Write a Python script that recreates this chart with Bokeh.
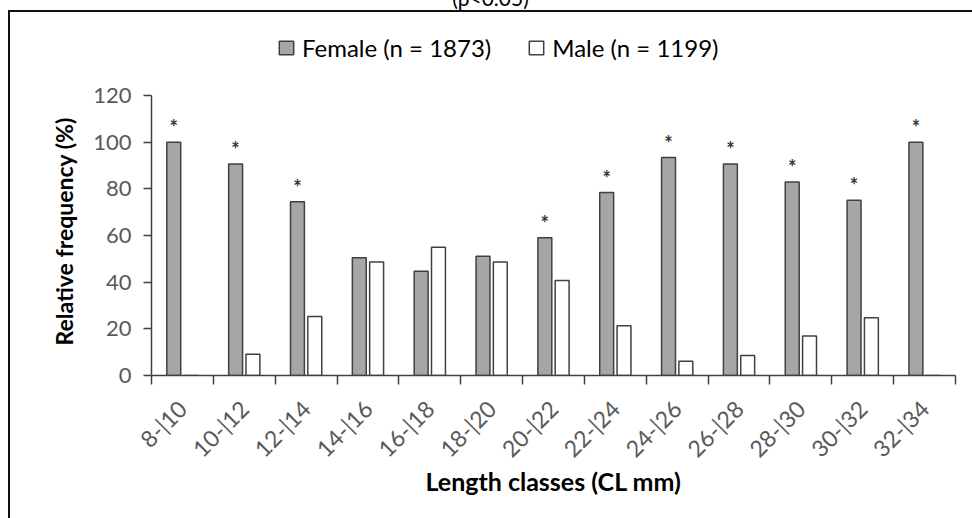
import numpy as np
from bokeh.plotting import figure
from bokeh.models import (Range1d, FixedTicker, ColumnDataSource, Legend, LegendItem,
                          Div, Title)
from bokeh.core.properties import value
from bokeh.embed import file_html
from bokeh.resources import INLINE

# ---- data ----
categories = ["8-|10", "10-|12", "12-|14", "14-|16", "16-|18", "18-|20", "20-|22",
              "22-|24", "24-|26", "26-|28", "28-|30", "30-|32", "32-|34"]
female = [100, 90.6, 74.5, 50.5, 44.7, 51.1, 59.0, 78.4, 93.4, 90.6, 82.9, 75.1, 100]
male = [0, 9.1, 25.3, 48.6, 55.0, 48.6, 40.7, 21.3, 6.1, 8.6, 16.9, 24.7, 0]
signif = ["*", "*", "*", "", "", "", "*", "*", "*", "*", "*", "*", "*"]
yticks = [0, 20, 40, 60, 80, 100, 120]
female_label = "Female (n = 1873)"
male_label = "Male (n = 1199)"
ylabel = "Relative frequency (%)"
xlabel = "Length classes (CL mm)"
caption = "(p&lt;0.05)"

FONT = "Lato"
AX = "#404040"
TICK_TXT = "#595959"

idx = np.arange(len(categories)) + 0.5
src = ColumnDataSource(dict(
    xf=idx - 0.14, xm=idx + 0.14, female=female, male=male, sig=signif,
))

# value axis: 0 at y=375 px, 120 at y=95 px; frame extends up to y=20 to hold the legend
p = figure(width=972, height=518, output_backend="svg", toolbar_location=None,
           x_range=Range1d(0, len(categories)), y_range=Range1d(0, 120 * 355 / 280),
           min_border_left=151, min_border_right=17, min_border_top=20,
           min_border_bottom=143)
p.outline_line_color = None
p.xgrid.visible = False
p.ygrid.visible = False
p.background_fill_color = "white"
p.border_fill_color = "white"

rf = p.vbar(x="xf", top="female", width=0.225, source=src,
            fill_color="#a6a6a6", line_color=AX, line_width=1.5)
rm = p.vbar(x="xm", top="male", width=0.225, source=src,
            fill_color="white", line_color=AX, line_width=1.5)

p.text(x="xf", y="female", text="sig", source=src, text_align="center",
       text_baseline="alphabetic", y_offset=-15, text_font=value(FONT),
       text_font_style="bold", text_font_size="20px", text_color="#333333")

# x axis: labels at category centres, ticks at category boundaries
xa = p.xaxis[0]
xa.ticker = FixedTicker(ticks=list(idx), minor_ticks=list(range(len(categories) + 1)))
xa.major_label_overrides = {float(v): c for v, c in zip(idx, categories)}
xa.major_tick_line_color = None
xa.minor_tick_line_color = AX
xa.minor_tick_line_width = 1.5
xa.minor_tick_in = 0
xa.minor_tick_out = 9
xa.axis_line_color = AX
xa.axis_line_width = 1.5
xa.major_label_orientation = np.pi / 4
xa.major_label_text_font = FONT
xa.major_label_text_font_size = "23px"
xa.major_label_text_color = TICK_TXT
xa.major_label_standoff = 20
xa.axis_label = xlabel
xa.axis_label_text_font = FONT
xa.axis_label_text_font_style = "bold"
xa.axis_label_text_font_size = "25px"
xa.axis_label_text_color = "black"
xa.axis_label_standoff = -9

ya = p.yaxis[0]
ya.ticker = FixedTicker(ticks=yticks)
ya.bounds = (0, 120)
ya.minor_tick_line_color = None
ya.major_tick_in = 0
ya.major_tick_out = 8
ya.major_tick_line_color = AX
ya.major_tick_line_width = 1.5
ya.axis_line_color = AX
ya.axis_line_width = 1.5
ya.major_label_text_font = FONT
ya.major_label_text_font_size = "22px"
ya.major_label_text_color = TICK_TXT
ya.major_label_standoff = 12

# y-axis title, placed along the 0..120 part of the axis
ytitle = Title(text=ylabel, align="left", offset=30, standoff=26,
               text_font=FONT, text_font_style="bold", text_font_size="23px",
               text_color="black")
p.add_layout(ytitle, "left")

legend = Legend(items=[LegendItem(label=female_label, renderers=[rf]),
                       LegendItem(label=male_label, renderers=[rm])],
                orientation="horizontal", location=(126, 313),
                border_line_color=None, background_fill_alpha=0, padding=0,
                margin=0, spacing=36, label_standoff=7, glyph_width=18,
                glyph_height=17, label_text_font=FONT, label_text_font_size="24px",
                label_text_color="black")
p.add_layout(legend)

overlay_html = (
    '<div style="position:absolute;left:0;top:-13px;width:981px;text-align:center;'
    'font-family:Lato;font-size:21px;line-height:21px;color:#000;white-space:nowrap">'
    + caption + '</div>'
    '<div style="position:absolute;left:8px;top:10px;width:980px;height:530px;'
    'border-left:2px solid #111;border-top:2px solid #111"></div>'
)
overlay = Div(text=overlay_html, margin=0,
              styles={"position": "absolute", "left": "0px", "top": "0px",
                      "width": "972px", "height": "518px", "overflow": "hidden",
                      "pointer-events": "none", "margin": "0px", "padding": "0px"})

open("out.html", "w").write(file_html([p, overlay], INLINE))
